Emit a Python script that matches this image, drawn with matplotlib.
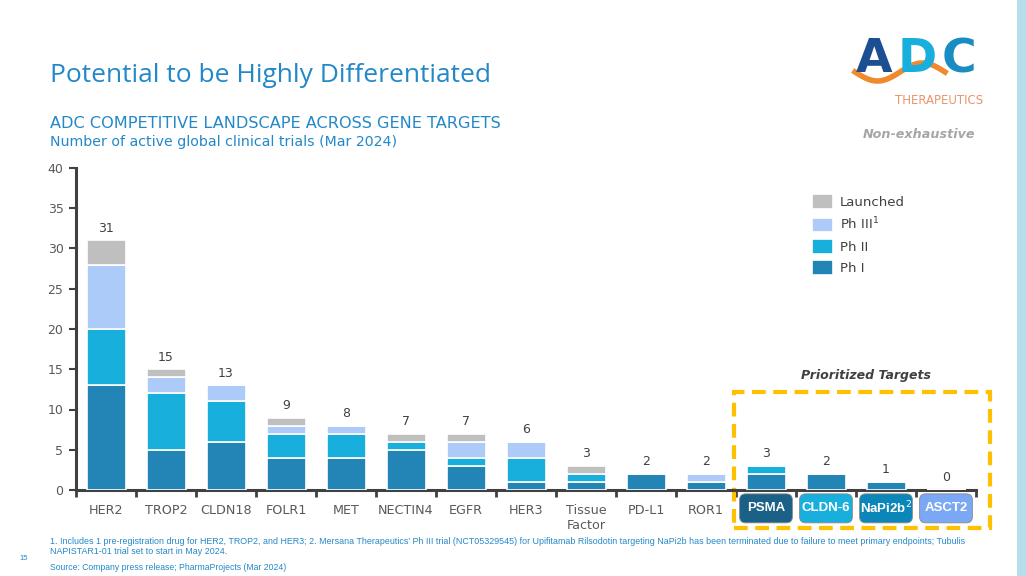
import numpy as np
import matplotlib.pyplot as plt
import matplotlib.transforms as mtrans
from matplotlib.patches import Rectangle, FancyBboxPatch

targets = ["HER2", "TROP2", "CLDN18", "FOLR1", "MET", "NECTIN4", "EGFR", "HER3",
           "Tissue\nFactor", "PD-L1", "ROR1", "PSMA", "CLDN-6", "NaPi2b$^2$", "ASCT2"]
ph1 = [13, 5, 6, 4, 4, 5, 3, 1, 1, 2, 1, 2, 2, 1, 0]
ph2 = [7, 7, 5, 3, 3, 1, 1, 3, 1, 0, 0, 1, 0, 0, 0]
ph3 = [8, 2, 2, 1, 1, 0, 2, 2, 0, 0, 1, 0, 0, 0, 0]
launched = [3, 1, 0, 1, 0, 1, 1, 0, 1, 0, 0, 0, 0, 0, 0]
n_regular = 11
prior_colors = ["#1B6187", "#19AFDD", "#0B86B8", "#7AA8F5"]

c_ph1 = "#2384B6"
c_ph2 = "#19AFDD"
c_ph3 = "#ADCBF8"
c_launch = "#BFBFBF"
blue = "#2388C8"
gray_txt = "#595959"

fig = plt.figure(figsize=(10.26, 5.76), dpi=100)
ax = fig.add_axes([76 / 1026, 1 - 490 / 576, 900 / 1026, 322 / 576])

x = np.arange(len(targets))
p1 = np.array(ph1)
p2 = np.array(ph2)
p3 = np.array(ph3)
la = np.array(launched)
w = 0.65
kw = dict(width=w, edgecolor="white", linewidth=1.2, zorder=3)
ax.bar(x, p1, color=c_ph1, label="Ph I", **kw)
ax.bar(x, p2, bottom=p1, color=c_ph2, label="Ph II", **kw)
ax.bar(x, p3, bottom=p1 + p2, color=c_ph3, label="Ph III$^1$", **kw)
ax.bar(x, la, bottom=p1 + p2 + p3, color=c_launch, label="Launched", **kw)

totals = p1 + p2 + p3 + la
for xi, t in zip(x, totals):
    ax.text(xi, t + 0.7, str(t), ha="center", va="bottom", fontsize=9, color="#404040")

ax.set_xlim(-0.5, len(targets) - 0.5)
ax.set_ylim(0, 40)
ax.set_yticks(range(0, 41, 5))
ax.tick_params(axis="y", labelsize=9, colors="#404040", labelcolor=gray_txt,
               length=5, width=1.5, direction="out", pad=4)
ax.set_xticks(np.arange(-0.5, len(targets)), labels=[])
ax.tick_params(axis="x", which="major", length=5, width=2, colors="#404040", direction="out")
ax.set_xticks(x[:n_regular], labels=targets[:n_regular], minor=True)
ax.tick_params(axis="x", which="minor", length=0, labelsize=9.2, labelcolor=gray_txt, pad=10)
for s in ["top", "right"]:
    ax.spines[s].set_visible(False)
for s in ["left", "bottom"]:
    ax.spines[s].set_color("#404040")
    ax.spines[s].set_linewidth(2.2)

# prioritized target labels
trans = mtrans.blended_transform_factory(ax.transData, ax.transAxes)
for i, col in zip(range(n_regular, len(targets)), prior_colors):
    box = FancyBboxPatch((x[i] - 0.44, -0.102), 0.88, 0.09,
                         boxstyle="round,pad=0,rounding_size=0.1",
                         mutation_aspect=60 / 322, transform=trans,
                         facecolor=col, edgecolor="#8A8A8A", linewidth=0.6,
                         clip_on=False, zorder=4)
    ax.add_patch(box)
    ax.text(x[i], -0.057, targets[i], transform=trans, ha="center", va="center",
            fontsize=9.5, fontweight="bold", color="white", zorder=5, clip_on=False,
            family="Liberation Sans")

frame = Rectangle((10.47, -0.118), 4.26, 0.422, transform=trans, fill=False,
                  edgecolor="#FFC000", linewidth=3, linestyle=(0, (3.3, 1.8)),
                  clip_on=False, zorder=2)
ax.add_patch(frame)
ax.text(12.67, 0.355, "Prioritized Targets", transform=trans, ha="center", va="center",
        fontsize=9, fontweight="bold", fontstyle="italic", color="#404040")

# legend
handles, labels = ax.get_legend_handles_labels()
leg = ax.legend(handles[::-1], labels[::-1], loc="upper left", bbox_to_anchor=(0.805, 0.955),
                frameon=False, fontsize=9.5, handlelength=1.6, handleheight=1.35,
                labelspacing=0.5, handletextpad=0.5, labelcolor="#404040")

# titles
fig.text(50 / 1026, 1 - 75 / 576, "Potential to be Highly Differentiated", fontsize=19,
         color=blue, va="center", ha="left", family="Open Sans")
fig.text(50 / 1026, 1 - 123 / 576, "ADC COMPETITIVE LANDSCAPE ACROSS GENE TARGETS",
         fontsize=11.6, color=blue, va="center", ha="left", family="DejaVu Sans")
fig.text(50 / 1026, 1 - 142 / 576, "Number of active global clinical trials (Mar 2024)",
         fontsize=10.2, color=blue, va="center", ha="left", family="DejaVu Sans")
fig.text(919 / 1026, 1 - 135 / 576, "Non-exhaustive", fontsize=9.2, color="#A6A6A6",
         fontweight="bold", fontstyle="italic", ha="center", va="center")

# logo
fig.text(856 / 1026, 1 - 60 / 576, "A", fontsize=34, fontweight="bold", color="#1B4F91",
         va="center", ha="left")
fig.text(898 / 1026, 1 - 60 / 576, "D", fontsize=34, fontweight="bold", color="#19AFDD",
         va="center", ha="left")
fig.text(942 / 1026, 1 - 60 / 576, "C", fontsize=34, fontweight="bold", color="#1A8CC4",
         va="center", ha="left")
wx = np.linspace(855, 945, 60)
wy = 72 + 9 * np.sin((wx - 855) / 90 * 2 * np.pi)
fig.add_artist(plt.Line2D(wx / 1026, 1 - wy / 576, color="#F08A2C", linewidth=4))
fig.text(939 / 1026, 1 - 100 / 576, "THERAPEUTICS", fontsize=8.5, color="#E8956B",
         va="center", ha="center")

# right strip
fig.add_artist(Rectangle((1017 / 1026, 0), 9 / 1026, 1, transform=fig.transFigure,
                         facecolor="#B7DCEC", edgecolor="none"))

# footnotes
fn = ("1. Includes 1 pre-registration drug for HER2, TROP2, and HER3; 2. Mersana Therapeutics\u2019 "
      "Ph III trial (NCT05329545) for Upifitamab Rilsodotin targeting NaPi2b has been terminated "
      "due to failure to meet primary endpoints; Tubulis")
fam = ["Liberation Sans", "DejaVu Sans"]
fig.text(50 / 1026, 1 - 541 / 576, fn, fontsize=6.4, color=blue, va="center", family=fam)
fig.text(50 / 1026, 1 - 552 / 576, "NAPISTAR1-01 trial set to start in May 2024.",
         fontsize=6.4, color=blue, va="center", family=fam)
fig.text(50 / 1026, 1 - 567 / 576, "Source: Company press release; PharmaProjects (Mar 2024)",
         fontsize=6.2, color=blue, va="center", family=fam)
fig.text(24 / 1026, 1 - 558 / 576, "15", fontsize=5.5, color=blue, va="center", ha="center",
         family=fam)

fig.savefig("out.png", dpi=100)
